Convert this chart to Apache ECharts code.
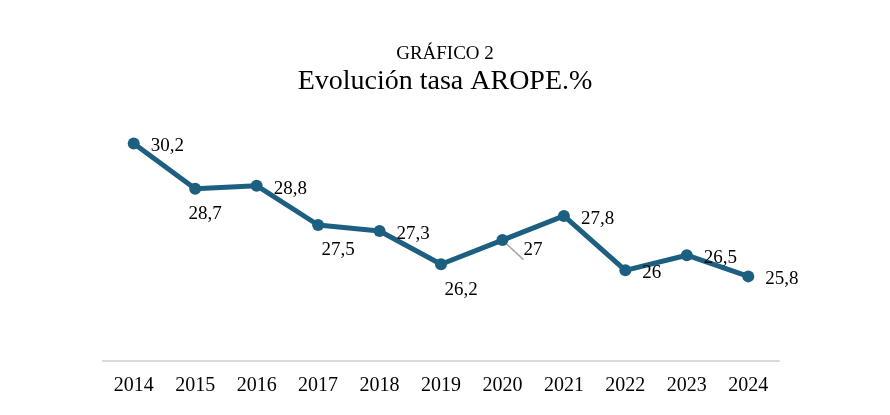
<!DOCTYPE html>
<html>
<head>
<meta charset="utf-8">
<script src="https://cdn.jsdelivr.net/npm/echarts@6/dist/echarts.min.js"></script>
<style>
  html, body { margin: 0; padding: 0; background: #fff; }
  #chart { width: 890px; height: 415px; }
</style>
</head>
<body>
<div id="chart"></div>
<script>
var years = ['2014', '2015', '2016', '2017', '2018', '2019', '2020', '2021', '2022', '2023', '2024'];
var arope = [30.2, 28.7, 28.8, 27.5, 27.3, 26.2, 27, 27.8, 26, 26.5, 25.8];
// where each value label sits (Excel moved some of them by hand)
var labelPlace = ['right', 'below', 'right', 'below', 'right', 'below', 'moved', 'right', 'right', 'right', 'right'];

var serif = '"Liberation Serif", "Times New Roman", serif';
var lineColor = '#1d5f80';

var chart = echarts.init(document.getElementById('chart'));

var points = arope.map(function (v, i) {
  var item = { value: v };
  if (labelPlace[i] === 'below') {
    item.label = { position: 'bottom', distance: 10, offset: [i === 1 ? 10 : 20, 0] };
  } else if (labelPlace[i] === 'moved') {
    item.label = { position: 'right', distance: 15, offset: [0, 10] };
    item.labelLine = { show: true, lineStyle: { color: '#a6a6a6', width: 1.5 } };
  }
  return item;
});

chart.setOption({
  animation: false,
  title: [{
    text: 'GRÁFICO 2',
    left: 'center',
    top: 40,
    textStyle: { fontFamily: serif, fontSize: 19, fontWeight: 'normal', color: '#000' }
  }, {
    text: 'Evolución tasa AROPE.%',
    left: 'center',
    top: 63,
    textStyle: { fontFamily: serif, fontSize: 28, fontWeight: 'normal', color: '#000' }
  }],
  grid: { left: 103, right: 111, top: 89, bottom: 54 },
  xAxis: {
    type: 'category',
    data: years,
    boundaryGap: true,
    axisLine: { lineStyle: { color: '#d9d9d9', width: 2 } },
    axisTick: { show: false },
    axisLabel: { fontFamily: serif, fontSize: 20, color: '#000', margin: 15 }
  },
  yAxis: {
    type: 'value',
    min: 23,
    max: 32,
    show: false,
    splitLine: { show: false }
  },
  series: [{
    type: 'line',
    data: points,
    symbol: 'circle',
    symbolSize: 12,
    lineStyle: { color: lineColor, width: 5 },
    itemStyle: { color: lineColor },
    label: {
      show: true,
      position: 'right',
      distance: 11,
      offset: [0, 3],
      fontFamily: serif,
      fontSize: 19,
      color: '#000',
      formatter: function (p) { return String(p.value).replace('.', ','); }
    }
  }]
});
</script>
</body>
</html>
